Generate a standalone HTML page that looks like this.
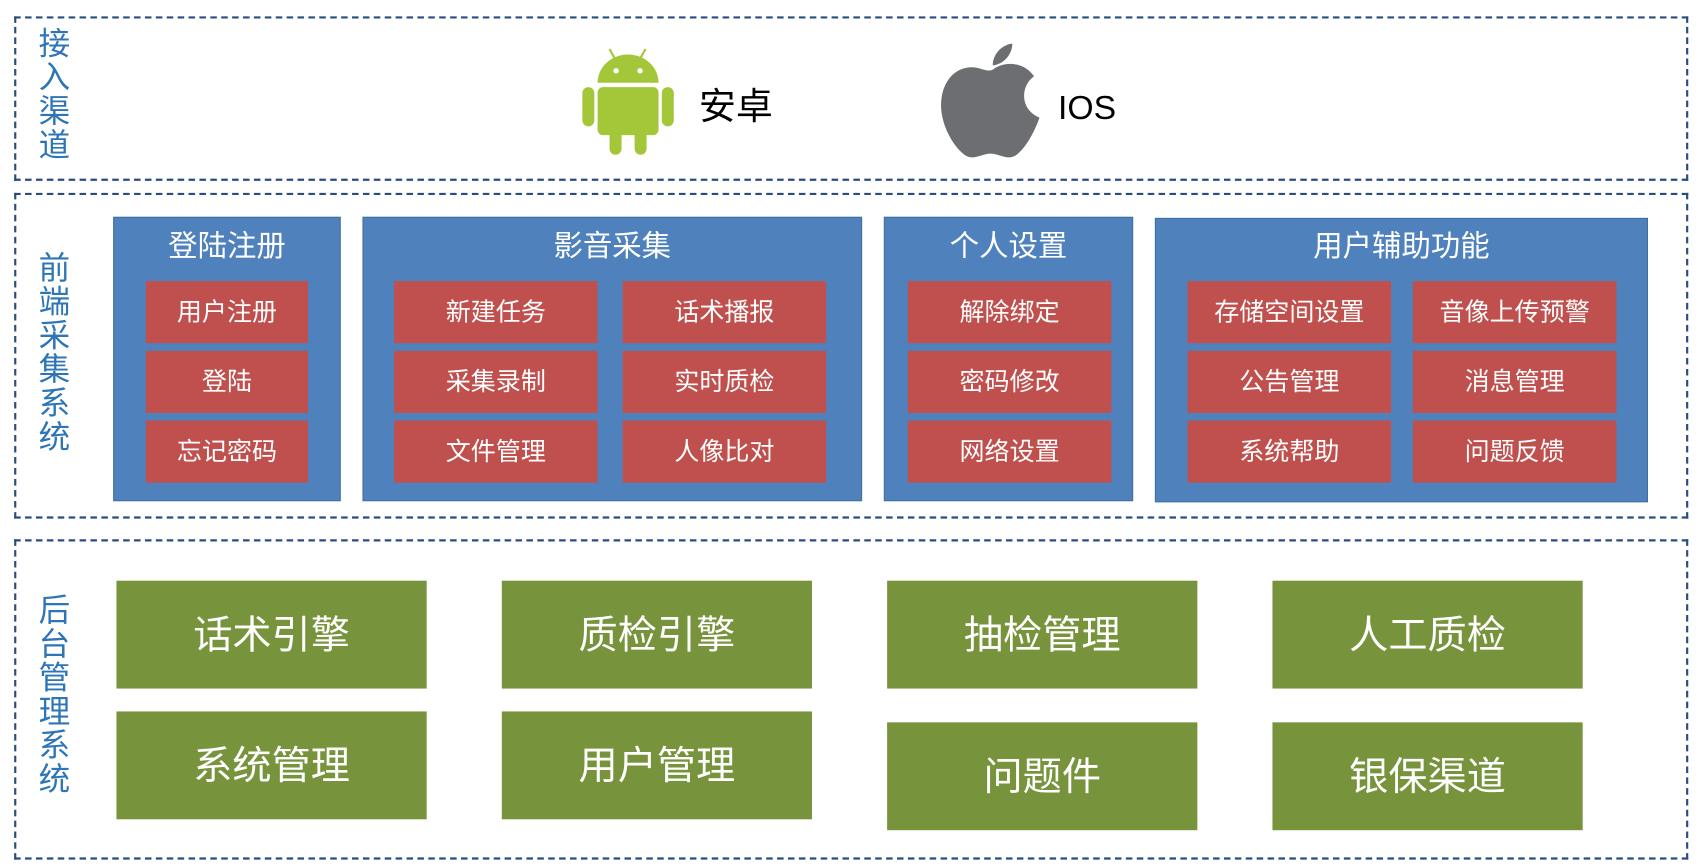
<!DOCTYPE html>
<html><head><meta charset="utf-8"><style>
html,body{margin:0;padding:0;background:#fff;width:1705px;height:868px;overflow:hidden}
#w{position:absolute;left:0;top:0;width:1560px;height:795px;transform:scale(1.0885,1.0895);transform-origin:0 0;font-family:"Liberation Sans","Noto Sans CJK SC",sans-serif}
.d{position:absolute;border:2.5px dashed #2a4d80;box-sizing:border-box}
.lab{position:absolute;left:34px;width:32px;color:#2e75b6;font-size:29px;line-height:31px;text-align:center}
.b{position:absolute;background:#4f81bd;box-sizing:border-box;border:1px solid #41719c}
.t{position:absolute;color:#fff;font-size:27px;text-align:center;line-height:30px}
.r{position:absolute;background:#c0504d;color:#fff;font-size:23px;text-align:center;line-height:57px;height:57px}
.g{position:absolute;background:#77933c;color:#fff;font-size:36px;text-align:center;line-height:99px;height:99px;width:285px}
</style></head><body><div id="w">
<div class="d" style="left:13px;top:15px;width:1538px;height:151px"></div>
<div class="d" style="left:13px;top:177px;width:1538px;height:299px"></div>
<div class="d" style="left:13px;top:495px;width:1538px;height:294px"></div>
<div class="lab" style="top:26px">接入渠道</div>
<div class="lab" style="top:232px">前端采集系统</div>
<div class="lab" style="top:546px">后台管理系统</div>

<svg style="position:absolute;left:530px;top:40px" width="95" height="105" viewBox="0 0 95 105">
<g fill="#a4c639" stroke="#a4c639">
<line x1="30" y1="5" x2="36" y2="16" stroke-width="2"/><line x1="63" y1="5" x2="57" y2="16" stroke-width="2"/>
<path d="M19 36 A28 26 0 0 1 75 36 Z" stroke="none"/>
<rect x="19" y="40" width="56" height="44" rx="5" stroke="none"/>
<rect x="5" y="40" width="11" height="36" rx="5.5" stroke="none"/>
<rect x="78" y="40" width="11" height="36" rx="5.5" stroke="none"/>
<rect x="30" y="75" width="11" height="27" rx="5.5" stroke="none"/>
<rect x="53" y="75" width="11" height="27" rx="5.5" stroke="none"/>
</g><circle cx="36" cy="25" r="2.5" fill="#fff"/><circle cx="58" cy="25" r="2.5" fill="#fff"/></svg>
<div style="position:absolute;left:642px;top:76px;font-size:34px;line-height:44px">安卓</div>
<svg style="position:absolute;left:862px;top:38px" width="96" height="110" viewBox="0 0 96 110">
<path fill="#6d6e71" d="M50 26 C60 18 78 18 88 32 C76 40 74 62 93 70 C88 84 80 98 72 104 C64 110 56 103 48 103 C40 103 32 110 24 104 C12 95 0 72 3 52 C6 30 22 22 34 24 C40 25 45 28 50 26 Z"/>
<path fill="#6d6e71" d="M50 22 C50 12 58 3 68 2 C68 12 60 21 50 22 Z"/></svg>
<div style="position:absolute;left:972px;top:78px;font-size:31px;line-height:42px">IOS</div>

<div class="b" style="left:104px;top:199px;width:209px;height:261px"></div>
<div class="b" style="left:333px;top:199px;width:459px;height:261px"></div>
<div class="b" style="left:812px;top:199px;width:229px;height:261px"></div>
<div class="b" style="left:1061px;top:200px;width:453px;height:261px"></div>
<div class="t" style="left:104px;top:211px;width:209px">登陆注册</div>
<div class="t" style="left:333px;top:211px;width:459px">影音采集</div>
<div class="t" style="left:812px;top:211px;width:229px">个人设置</div>
<div class="t" style="left:1061px;top:211px;width:453px">用户辅助功能</div>

<div class="r" style="left:134px;top:258px;width:149px">用户注册</div>
<div class="r" style="left:134px;top:322px;width:149px">登陆</div>
<div class="r" style="left:134px;top:386px;width:149px">忘记密码</div>
<div class="r" style="left:362px;top:258px;width:187px">新建任务</div>
<div class="r" style="left:362px;top:322px;width:187px">采集录制</div>
<div class="r" style="left:362px;top:386px;width:187px">文件管理</div>
<div class="r" style="left:572px;top:258px;width:187px">话术播报</div>
<div class="r" style="left:572px;top:322px;width:187px">实时质检</div>
<div class="r" style="left:572px;top:386px;width:187px">人像比对</div>
<div class="r" style="left:834px;top:258px;width:187px">解除绑定</div>
<div class="r" style="left:834px;top:322px;width:187px">密码修改</div>
<div class="r" style="left:834px;top:386px;width:187px">网络设置</div>
<div class="r" style="left:1091px;top:258px;width:187px">存储空间设置</div>
<div class="r" style="left:1091px;top:322px;width:187px">公告管理</div>
<div class="r" style="left:1091px;top:386px;width:187px">系统帮助</div>
<div class="r" style="left:1298px;top:258px;width:187px">音像上传预警</div>
<div class="r" style="left:1298px;top:322px;width:187px">消息管理</div>
<div class="r" style="left:1298px;top:386px;width:187px">问题反馈</div>

<div class="g" style="left:107px;top:533px">话术引擎</div>
<div class="g" style="left:461px;top:533px">质检引擎</div>
<div class="g" style="left:815px;top:533px">抽检管理</div>
<div class="g" style="left:1169px;top:533px">人工质检</div>
<div class="g" style="left:107px;top:653px">系统管理</div>
<div class="g" style="left:461px;top:653px">用户管理</div>
<div class="g" style="left:815px;top:663px">问题件</div>
<div class="g" style="left:1169px;top:663px">银保渠道</div>
</div></body></html>
